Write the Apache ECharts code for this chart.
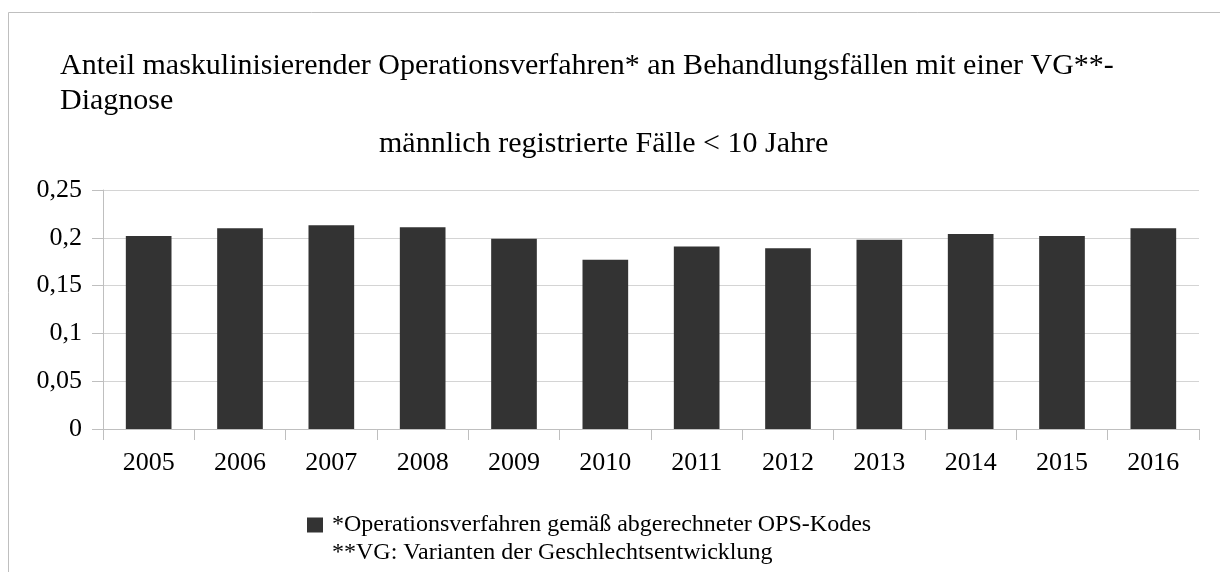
<!DOCTYPE html>
<html><head><meta charset="utf-8">
<script src="https://cdn.jsdelivr.net/npm/echarts@6/dist/echarts.min.js"></script>
<style>html,body{margin:0;padding:0;background:#fff}#c{width:1220px;height:572px}</style>
</head><body><div id="c"></div>
<script>
const categories = ['2005','2006','2007','2008','2009','2010','2011','2012','2013','2014','2015','2016'];
const values = [0.202, 0.210, 0.213, 0.211, 0.199, 0.177, 0.191, 0.189, 0.198, 0.204, 0.202, 0.210];
const yTicks = { min: 0, max: 0.25, interval: 0.05 };
const titleText = 'Anteil maskulinisierender Operationsverfahren* an Behandlungsfällen mit einer VG**-\nDiagnose';
const subtitleText = 'männlich registrierte Fälle < 10 Jahre';
const seriesName = '*Operationsverfahren gemäß abgerechneter OPS-Kodes';
const footnote = '**VG: Varianten der Geschlechtsentwicklung';

const font = '"Liberation Serif", "Times New Roman", serif';
const chart = echarts.init(document.getElementById('c'), null, {renderer: 'canvas'});
chart.setOption({
  animation: false,
  backgroundColor: '#fff',
  title: [
    { text: titleText, left: 60, top: 49, padding: 0,
      textStyle: { fontFamily: font, fontSize: 30, fontWeight: 'normal', color: '#000', lineHeight: 35 } },
    { text: subtitleText, left: 379, top: 127, padding: 0,
      textStyle: { fontFamily: font, fontSize: 30, fontWeight: 'normal', color: '#000', lineHeight: 35 } }
  ],
  graphic: [
    { type: 'rect', shape: { x: 8.5, y: 12.5, width: 1400, height: 800 },
      style: { fill: 'none', stroke: '#bfbfbf', lineWidth: 1 }, silent: true },
    { type: 'text', left: 332, top: 541, silent: true,
      style: { text: footnote, font: '24px ' + font, fill: '#000' } }
  ],
  legend: {
    left: 307, top: 511, padding: 0,
    itemWidth: 16, itemHeight: 15,
    icon: 'rect',
    formatter: n => '{a|' + n + '}',
    textStyle: { fontFamily: font, fontSize: 24, color: '#000', lineHeight: 28,
      rich: { a: { fontFamily: font, fontSize: 24, color: '#000', lineHeight: 28, padding: [0, 0, 0, 4] } } },
    data: [seriesName]
  },
  grid: { left: 103, right: 21, top: 190, bottom: 143 },
  xAxis: {
    type: 'category', data: categories,
    axisLine: { lineStyle: { color: '#bfbfbf' } },
    axisTick: { show: true, length: 11, lineStyle: { color: '#bfbfbf' } },
    axisLabel: { fontFamily: font, fontSize: 26, color: '#000', margin: 21 }
  },
  yAxis: {
    type: 'value', min: yTicks.min, max: yTicks.max, interval: yTicks.interval,
    axisLine: { show: true, lineStyle: { color: '#bfbfbf' } },
    axisTick: { show: true, length: 11, lineStyle: { color: '#bfbfbf' } },
    splitLine: { lineStyle: { color: '#d4d4d4', width: 1 } },
    axisLabel: { fontFamily: font, fontSize: 26, color: '#000', margin: 21,
      formatter: v => String(Math.round(v * 100) / 100).replace('.', ',') }
  },
  series: [{
    name: seriesName, type: 'bar', data: values,
    barWidth: '50%',
    itemStyle: { color: '#333333' }
  }]
});
</script></body></html>
